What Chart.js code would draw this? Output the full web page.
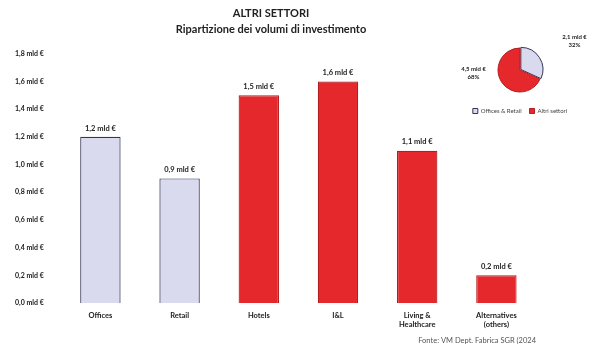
<!DOCTYPE html>
<html>
<head>
<meta charset="utf-8">
<script src="https://cdn.jsdelivr.net/npm/chart.js@4/dist/chart.umd.min.js"></script>
<style>
  html, body { margin: 0; padding: 0; background: #fff; }
  #wrap { position: relative; width: 596px; height: 347px; }
  #bars { position: absolute; left: 0; top: 0; }
  #pie { position: absolute; left: 435px; top: 26px; }
</style>
</head>
<body>
<div id="wrap">
  <canvas id="bars" width="596" height="347"></canvas>
  <canvas id="pie" width="170" height="98"></canvas>
</div>
<script>
const sectors = ['Offices', 'Retail', 'Hotels', 'I&L', ['Living &', 'Healthcare'], ['Alternatives', '(others)']];
const volumes = [1.2, 0.9, 1.5, 1.6, 1.1, 0.2];
const sectorGroup = ['office', 'office', 'other', 'other', 'other', 'other'];

const pieLabels = ['Offices & Retail', 'Altri settori'];
const pieVolumes = [2.1, 4.5];
const pieShares = [32, 68];

const LAVENDER = '#dadaef';
const NAVY = '#34345a';
const RED = '#e5282c';
const DARK_RED = '#b51d21';
const FONT = 'Lato, "Open Sans", sans-serif';

function formatMld(value) {
    return value.toFixed(1).replace('.', ',') + ' mld €';
}

// value labels above each bar
const barLabels = {
    id: 'barLabels',
    afterDatasetsDraw(chart) {
        const { ctx } = chart;
        const meta = chart.getDatasetMeta(0);
        ctx.save();
        ctx.font = 'bold 7.5px ' + FONT;
        ctx.fillStyle = '#222';
        ctx.textAlign = 'center';
        ctx.textBaseline = 'bottom';
        meta.data.forEach((bar, i) => {
            ctx.fillText(formatMld(volumes[i]), bar.x, bar.y - 5);
        });
        ctx.restore();
    }
};

new Chart(document.getElementById('bars'), {
    type: 'bar',
    data: {
        labels: sectors,
        datasets: [{
            data: volumes,
            backgroundColor: sectorGroup.map(g => g === 'office' ? LAVENDER : RED),
            borderColor: sectorGroup.map(g => g === 'office' ? NAVY : DARK_RED),
            borderWidth: 1.2,
            barPercentage: 0.51,
            categoryPercentage: 1
        }]
    },
    options: {
        responsive: false,
        animation: false,
        layout: { padding: { left: 6, right: 60, top: 0, bottom: 0 } },
        plugins: {
            legend: { display: false },
            tooltip: { enabled: false },
            title: {
                display: true,
                text: ['ALTRI SETTORI', 'Ripartizione dei volumi di investimento'],
                color: '#222',
                font: { family: FONT, size: 11, weight: 'bold', lineHeight: 1.4 },
                padding: { top: 6, bottom: 17 }
            },
            subtitle: {
                display: true,
                position: 'bottom',
                align: 'end',
                text: 'Fonte: VM Dept. Fabrica SGR (2024',
                color: '#555',
                font: { family: FONT, size: 7.5 },
                padding: { top: 7, bottom: 2 }
            }
        },
        scales: {
            x: {
                grid: { display: false },
                border: { display: false },
                ticks: {
                    color: '#222',
                    font: { family: FONT, size: 7.5, weight: 'bold' },
                    padding: 0,
                    maxRotation: 0
                }
            },
            y: {
                min: 0,
                max: 1.8,
                grid: { display: false },
                border: { display: false },
                ticks: {
                    stepSize: 0.2,
                    color: '#222',
                    padding: 9,
                    font: { family: FONT, size: 7, weight: 'bold' },
                    callback: value => formatMld(value)
                }
            }
        }
    },
    plugins: [barLabels]
});

// value and share beside each slice
const sliceLabels = {
    id: 'sliceLabels',
    afterDatasetsDraw(chart) {
        const { ctx } = chart;
        const meta = chart.getDatasetMeta(0);
        ctx.save();
        ctx.font = 'bold 6px ' + FONT;
        ctx.fillStyle = '#222';
        ctx.textAlign = 'center';
        ctx.textBaseline = 'middle';
        meta.data.forEach((arc, i) => {
            const mid = (arc.startAngle + arc.endAngle) / 2;
            const x = arc.x + Math.cos(mid) * (arc.outerRadius + 38) + 4;
            const y = arc.y + Math.sin(mid) * (arc.outerRadius + 8) - 13;
            ctx.fillText(formatMld(pieVolumes[i]), x, y - 4);
            ctx.fillText(pieShares[i] + '%', x, y + 4);
        });
        ctx.restore();
    }
};

new Chart(document.getElementById('pie'), {
    type: 'pie',
    data: {
        labels: pieLabels,
        datasets: [{
            data: pieVolumes,
            backgroundColor: [LAVENDER, RED],
            borderColor: [NAVY, DARK_RED],
            borderWidth: 1,
            offset: [4, 0],
            radius: 22
        }]
    },
    options: {
        responsive: false,
        animation: false,
        layout: { padding: { top: 14 } },
        plugins: {
            tooltip: { enabled: false },
            legend: {
                position: 'bottom',
                labels: {
                    boxWidth: 5,
                    boxHeight: 5,
                    padding: 8,
                    color: '#444',
                    font: { family: FONT, size: 6 }
                }
            }
        }
    },
    plugins: [sliceLabels]
});
</script>
</body>
</html>
